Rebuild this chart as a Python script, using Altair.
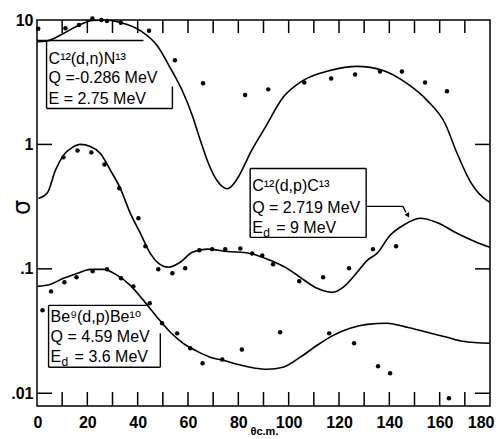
import altair as alt
import pandas as pd

# ---- C12(d,n)N13 : theory curve and measured points ----
c1_theta = [0, 4, 10.5, 17.3, 22, 27.2, 33.1, 41.1, 47.8, 53, 58.1, 61.7, 64.9, 67.7, 71.6, 75.6,
            79.6, 82.7, 84.7, 90.7, 97.8, 105.8, 116.5, 127.2, 137.5, 147, 155, 162.1, 166.9,
            172, 177.2, 180]
c1_sigma = [6.7, 6.8, 7.8, 9.2, 9.9, 10.0, 9.55, 8.2, 6.2, 4.1, 2.6, 1.71, 1.08, 0.74, 0.51, 0.44,
            0.53, 0.70, 0.85, 1.37, 2.39, 3.27, 3.93, 4.24, 3.93, 3.09, 2.26, 1.48, 0.85,
            0.51, 0.375, 0.342]
d1_theta = [0.5, 11.3, 16.7, 22, 25.6, 27.8, 33.3, 44.5, 54.8, 66, 82.7, 91.9, 106.2, 116.9,
            126.4, 136.3, 145, 154.2, 162.9]
d1_sigma = [8.5, 8.6, 9.1, 10.3, 10.0, 9.8, 9.5, 8.2, 4.75, 3.1, 2.5, 2.77, 3.15, 3.39,
            3.65, 3.86, 3.86, 3.15, 2.67]

# ---- C12(d,p)C13 ----
c2_theta = [0.6, 4.2, 7.3, 10.5, 14.1, 17.3, 21.2, 25.2, 29.2, 33.1, 37.1, 41.1, 45, 48.2, 52.2,
            56.9, 61.7, 67.7, 75.6, 84.7, 92.7, 100.6, 104.6, 111.3, 117.3, 121.6, 127.2, 131.2,
            135.1, 140.3, 145.4, 152.2, 158.9, 166.9, 174.8, 180]
c2_sigma = [0.368, 0.411, 0.618, 0.817, 0.946, 1.0, 0.964, 0.847, 0.618, 0.444, 0.279, 0.193,
            0.133, 0.111, 0.103, 0.113, 0.136, 0.144, 0.138, 0.133, 0.117, 0.0973, 0.0855,
            0.0697, 0.0647, 0.0710, 0.0938, 0.117, 0.133, 0.186, 0.223, 0.255, 0.236, 0.193,
            0.163, 0.149]
d2_theta = [10.5, 16.1, 21.6, 26.8, 32.7, 40.3, 43.1, 48.2, 53.8, 58.9, 64.5, 69.6, 74.8, 80.8,
            85.5, 89.5, 93.8, 104.2, 113.7, 124, 133.5, 142.7]
d2_sigma = [0.787, 0.895, 0.863, 0.690, 0.444, 0.255, 0.152, 0.0991, 0.0920, 0.101, 0.141,
            0.144, 0.144, 0.146, 0.133, 0.128, 0.109, 0.0794, 0.0855, 0.101, 0.144, 0.152]

# ---- Be9(d,p)Be10 ----
c3_theta = [0, 5.4, 10.5, 16.1, 21.2, 26.4, 31.9, 37.1, 42.3, 47.8, 53, 58.1, 63.7, 68.8, 74,
            79.6, 84.7, 91.5, 97.8, 104.6, 111.3, 117.7, 124.4, 131.2, 139.1, 147, 155, 162.9,
            169.2, 180]
c3_sigma = [0.0723, 0.0752, 0.0839, 0.0920, 0.0991, 0.0991, 0.0887, 0.0736, 0.0558, 0.0407,
            0.0309, 0.0252, 0.0217, 0.0195, 0.0184, 0.0171, 0.0162, 0.0156, 0.0162, 0.0195,
            0.0243, 0.0292, 0.0333, 0.0358, 0.0365, 0.0339, 0.0309, 0.0282, 0.0262, 0.0252]
d3_theta = [2.2, 5.6, 10.9, 15.7, 22.1, 27.8, 33.4, 38.3, 44.8, 49.7, 55.7, 60.9, 65.8, 73.6,
            81.4, 96.6, 116.1, 126, 135.5, 140.3, 163.7]
d3_sigma = [0.0465, 0.0659, 0.0780, 0.0855, 0.0955, 0.0991, 0.0839, 0.0723, 0.0528, 0.0365,
            0.0303, 0.0230, 0.0174, 0.0187, 0.0225, 0.0309, 0.0303, 0.0252, 0.0165, 0.0145,
            0.00912]

# ---- axis ticks ----
x_labels = [0, 20, 40, 60, 80, 100, 120, 140, 160, 180]
x_minor = [10, 20, 30, 40, 50, 60, 70, 80, 90, 100, 110, 120, 130, 140, 150, 160, 170]
y_labels = [0.01, 0.1, 1, 10]
y_minor = [0.01, 0.1, 1]

# ---- annotation boxes (theta, sigma anchors) ----
lab_theta = [4.6, 4.6, 4.6, 85.5, 85.5, 85.5, 5.4, 5.4, 5.4]
lab_sigma = [4.47, 3.09, 2.13, 0.419, 0.279, 0.193, 0.0372, 0.0257, 0.0177]
lab_text = ["C¹²(d,n)N¹³", "Q =-0.286 MeV", "E  = 2.75 MeV",
            "C¹²(d,p)C¹³", "Q = 2.719 MeV", "E",
            "Be⁹(d,p)Be¹⁰", "Q = 4.59  MeV", "E"]
sub_theta = [85.5, 5.4]
sub_sigma = [0.193, 0.0177]
sub_text = ["d", "d"]
suf_text = ["= 9  MeV", "= 3.6  MeV"]

# box outline segments: theta1, theta2, sigma1, sigma2
seg_t1 = [0, 3.8, 3.8, 53.8, 84.7, 84.7, 84.7, 130.8, 130.8, 145.4, 4.6, 4.6, 4.6, 49.0]
seg_t2 = [42.3, 3.8, 53.8, 53.8, 130.8, 130.8, 84.7, 130.8, 145.4, 146.6, 43.5, 4.6, 49.0, 49.0]
seg_s1 = [6.85, 6.85, 1.945, 2.92, 0.641, 0.179, 0.641, 0.641, 0.318, 0.318, 0.0509, 0.0509, 0.0162, 0.0303]
seg_s2 = [6.85, 1.945, 1.945, 1.945, 0.641, 0.179, 0.179, 0.179, 0.318, 0.284, 0.0509, 0.0162, 0.0162, 0.0162]
arrow_theta = [147.4]
arrow_sigma = [0.269]

curves = pd.concat([
    pd.DataFrame({"theta": c1_theta, "sigma": c1_sigma, "s": "a"}),
    pd.DataFrame({"theta": c2_theta, "sigma": c2_sigma, "s": "b"}),
    pd.DataFrame({"theta": c3_theta, "sigma": c3_sigma, "s": "c"}),
])
points = pd.concat([
    pd.DataFrame({"theta": d1_theta, "sigma": d1_sigma}),
    pd.DataFrame({"theta": d2_theta, "sigma": d2_sigma}),
    pd.DataFrame({"theta": d3_theta, "sigma": d3_sigma}),
])

W, H = 453, 386
FONT = "Liberation Sans, Arial, DejaVu Sans"

xs = alt.Scale(domain=[0, 180], nice=False, zero=False)
ys = alt.Scale(type="log", domain=[0.0079, 10], nice=False)

x_enc = alt.X("theta:Q", scale=xs, axis=alt.Axis(
    values=x_labels, ticks=False, tickSize=0, domain=False, grid=False,
    labelFont=FONT, labelFontSize=16, labelFontWeight="bold", labelPadding=8,
    labelColor="black", labelFlush=True, labelFlushOffset=4,
    title="θc.m.", titleFont=FONT, titleFontSize=11, titleFontWeight="bold",
    titleX=213, titleY=19, titleAlign="left", titleBaseline="top", titleColor="black"))
y_enc = alt.Y("sigma:Q", scale=ys, axis=alt.Axis(
    values=y_labels, ticks=False, tickSize=0, domain=False, grid=False,
    labelExpr="datum.value >= 10 ? '10' : datum.value >= 1 ? '1' : datum.value >= 0.1 ? '.1' : '.01'",
    labelFont=FONT, labelFontSize=16, labelFontWeight="bold", labelPadding=4,
    labelColor="black", labelFlush=False,
    title="σ", titleFont="DejaVu Sans", titleFontSize=24, titleFontWeight="normal",
    titleX=-8, titleY=187, titleAlign="center", titleBaseline="alphabetic",
    titleColor="black"))

lines = alt.Chart(curves).mark_line(color="black", strokeWidth=1.6, interpolate="monotone",
                                    clip=True).encode(x=x_enc, y=y_enc, detail="s:N")
dots = alt.Chart(points).mark_circle(color="black", size=20, opacity=1).encode(
    x="theta:Q", y="sigma:Q")

xt = pd.DataFrame({"theta": x_minor})
yt = pd.DataFrame({"sigma": y_minor})
tick_b = alt.Chart(xt).mark_rule(color="black", strokeWidth=1.5).encode(
    x="theta:Q", y=alt.value(H), y2=alt.value(H - 14))
tick_t = alt.Chart(xt).mark_rule(color="black", strokeWidth=1.5).encode(
    x="theta:Q", y=alt.value(0), y2=alt.value(13))
tick_l = alt.Chart(yt).mark_rule(color="black", strokeWidth=1.5).encode(
    y="sigma:Q", x=alt.value(0), x2=alt.value(15))
tick_r = alt.Chart(yt).mark_rule(color="black", strokeWidth=1.5).encode(
    y="sigma:Q", x=alt.value(W), x2=alt.value(W - 15))

segs = pd.DataFrame({"t1": seg_t1, "t2": seg_t2, "s1": seg_s1, "s2": seg_s2})
boxes = alt.Chart(segs).mark_rule(color="black", strokeWidth=1.4).encode(
    x="t1:Q", x2="t2:Q", y="s1:Q", y2="s2:Q")
arrow = alt.Chart(pd.DataFrame({"theta": arrow_theta, "sigma": arrow_sigma})).mark_point(
    shape="triangle-down", filled=True, color="black", size=28, angle=331, opacity=1).encode(
    x="theta:Q", y="sigma:Q")

labs = alt.Chart(pd.DataFrame({"theta": lab_theta, "sigma": lab_sigma, "t": lab_text})).mark_text(
    align="left", baseline="alphabetic", font=FONT, fontSize=16, color="black").encode(
    x="theta:Q", y="sigma:Q", text="t:N")
subs = alt.Chart(pd.DataFrame({"theta": sub_theta, "sigma": sub_sigma, "t": sub_text})).mark_text(
    align="left", baseline="alphabetic", font=FONT, fontSize=12, color="black", dx=11, dy=4).encode(
    x="theta:Q", y="sigma:Q", text="t:N")
sufs = alt.Chart(pd.DataFrame({"theta": sub_theta, "sigma": sub_sigma, "t": suf_text})).mark_text(
    align="left", baseline="alphabetic", font=FONT, fontSize=16, color="black", dx=24).encode(
    x="theta:Q", y="sigma:Q", text="t:N")

chart = alt.layer(lines, dots, tick_b, tick_t, tick_l, tick_r, boxes, arrow, labs, subs, sufs).properties(
    width=W, height=H,
    padding={"left": 29, "top": 12, "right": 5, "bottom": 33},
    autosize=alt.AutoSizeParams(type="none"),
    background="white",
).configure_view(stroke="black", strokeWidth=1.5)

chart.save("out.html", embed_options={"renderer": "svg", "actions": False})
